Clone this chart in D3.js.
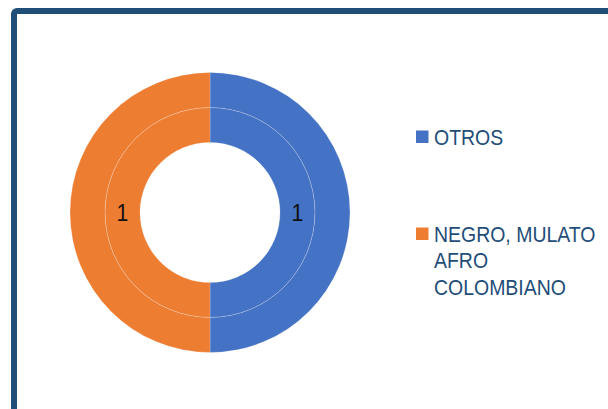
<!DOCTYPE html>
<html>
<head>
<meta charset="utf-8">
<script src="https://cdn.jsdelivr.net/npm/d3@7"></script>
<style>
  body { margin: 0; background: #fff; }
  svg { display: block; }
</style>
</head>
<body>
<svg id="chart" width="608" height="409"></svg>
<script>
const categories = ['OTROS', 'NEGRO, MULATO AFRO COLOMBIANO'];
const legendLines = [['OTROS'], ['NEGRO, MULATO', 'AFRO', 'COLOMBIANO']];
const innerValues = [1, 1];
const outerValues = [1, 1];
const colors = ['#4472C4', '#ED7D31'];

const svg = d3.select('#chart');
const cx = 210;
const cy = 212.5;

// frame, only the top and left edges are visible
svg.append('rect')
  .attr('x', 14)
  .attr('y', 11)
  .attr('width', 800)
  .attr('height', 600)
  .attr('rx', 3)
  .attr('fill', 'none')
  .attr('stroke', '#1F4E79')
  .attr('stroke-width', 6);

const pie = d3.pie().sort(null).value(d => d);
const g = svg.append('g').attr('transform', `translate(${cx},${cy})`);

const rings = [
  { values: innerValues, r0: 70, r1: 105, labels: true },
  { values: outerValues, r0: 105, r1: 140, labels: false }
];

rings.forEach(ring => {
  const arc = d3.arc().innerRadius(ring.r0).outerRadius(ring.r1);
  const arcs = pie(ring.values);
  g.append('g')
    .selectAll('path')
    .data(arcs)
    .enter()
    .append('path')
    .attr('d', arc)
    .attr('fill', (d, i) => colors[i])
    .attr('stroke', 'rgba(255,255,255,0.3)')
    .attr('stroke-width', 0.7);

  if (ring.labels) {
    g.append('g')
      .selectAll('text')
      .data(arcs)
      .enter()
      .append('text')
      .attr('transform', d => {
        const [x, y] = arc.centroid(d);
        return `translate(${x},${y}) scale(0.885,1)`;
      })
      .attr('text-anchor', 'middle')
      .attr('dy', '0.36em')
      .style('font-family', 'Liberation Sans, Arial, sans-serif')
      .style('font-size', '24px')
      .style('fill', '#111')
      .text(d => d.data);
  }
});

// legend
const legendY = d3.scaleOrdinal().domain(categories).range([130.5, 227.5]);
const legend = svg.append('g');
categories.forEach((c, i) => {
  const y0 = legendY(c);
  legend.append('rect')
    .attr('x', 416)
    .attr('y', y0)
    .attr('width', 12.5)
    .attr('height', 12.5)
    .attr('fill', colors[i]);
  const t = legend.append('text')
    .attr('transform', `translate(434,${y0 + 14}) scale(0.885,1)`)
    .style('font-family', 'Liberation Sans, Arial, sans-serif')
    .style('font-size', '22px')
    .style('fill', '#1F4E79');
  legendLines[i].forEach((line, j) => {
    t.append('tspan')
      .attr('x', 0)
      .attr('y', j * 26.7)
      .text(line);
  });
});
</script>
</body>
</html>
